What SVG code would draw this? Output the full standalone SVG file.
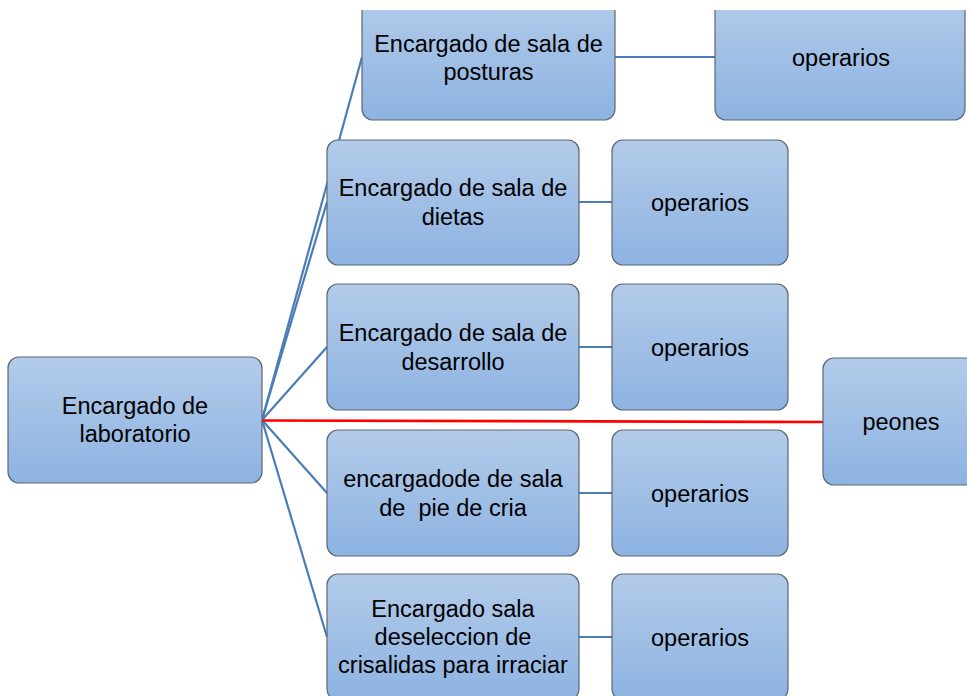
<svg xmlns="http://www.w3.org/2000/svg" width="967" height="696" viewBox="0 0 967 696">
<defs>
<linearGradient id="g" x1="0" y1="0" x2="0" y2="1">
<stop offset="0" stop-color="#b3cbe9"/>
<stop offset="1" stop-color="#8db3e2"/>
</linearGradient>
<clipPath id="topclip"><rect x="0" y="10" width="967" height="700"/></clipPath>
</defs>
<style>
.box{fill:url(#g);stroke:#5d6874;stroke-width:1.2}
.t{font-family:"Liberation Sans",Arial,sans-serif;font-size:23.5px;fill:#000;text-anchor:middle;white-space:pre}
.c{stroke:#4a7db5;stroke-width:2.2;fill:none}
.r{stroke:#ff0000;stroke-width:2.6;fill:none}
</style>
<rect width="967" height="696" fill="#fff"/>
<g id="connectors">
<line class="c" x1="262" y1="420" x2="362" y2="57"/>
<line class="c" x1="262" y1="420" x2="327" y2="202"/>
<line class="c" x1="262" y1="420" x2="327" y2="347"/>
<line class="c" x1="262" y1="420" x2="327" y2="493"/>
<line class="c" x1="262" y1="420" x2="327" y2="637"/>
<line class="c" x1="615" y1="57" x2="715" y2="57"/>
<line class="c" x1="579" y1="202" x2="612" y2="202"/>
<line class="c" x1="579" y1="347" x2="612" y2="347"/>
<line class="c" x1="579" y1="493" x2="612" y2="493"/>
<line class="c" x1="579" y1="637" x2="612" y2="637"/>
<line class="r" x1="262" y1="420.5" x2="823" y2="422"/>
</g>
<g id="lab">
<rect class="box" x="8" y="357" width="254" height="126" rx="11"/>
<text class="t" x="135" y="414">Encargado de</text>
<text class="t" x="135" y="442">laboratorio</text>
</g>
<g id="posturas" clip-path="url(#topclip)">
<rect class="box" x="362" y="-6" width="253" height="126" rx="11"/>
<text class="t" x="488.5" y="52">Encargado de sala de</text>
<text class="t" x="488.5" y="80">posturas</text>
</g>
<g id="op-posturas" clip-path="url(#topclip)">
<rect class="box" x="715" y="-6" width="250" height="126" rx="11"/>
<text class="t" x="841" y="66">operarios</text>
</g>
<g id="dietas">
<rect class="box" x="327" y="140" width="252" height="125" rx="11"/>
<text class="t" x="453" y="196">Encargado de sala de</text>
<text class="t" x="453" y="225">dietas</text>
</g>
<g id="op-dietas">
<rect class="box" x="612" y="140" width="176" height="125" rx="11"/>
<text class="t" x="700" y="211">operarios</text>
</g>
<g id="desarrollo">
<rect class="box" x="327" y="284" width="252" height="126" rx="11"/>
<text class="t" x="453" y="341">Encargado de sala de</text>
<text class="t" x="453" y="370">desarrollo</text>
</g>
<g id="op-desarrollo">
<rect class="box" x="612" y="284" width="176" height="126" rx="11"/>
<text class="t" x="700" y="356">operarios</text>
</g>
<g id="pie">
<rect class="box" x="327" y="430" width="252" height="126" rx="11"/>
<text class="t" x="453" y="487">encargadode de sala</text>
<text class="t" x="453" y="516">de  pie de cria</text>
</g>
<g id="op-pie">
<rect class="box" x="612" y="430" width="176" height="126" rx="11"/>
<text class="t" x="700" y="502">operarios</text>
</g>
<g id="crisalidas">
<rect class="box" x="327" y="574" width="252" height="126" rx="11"/>
<text class="t" x="453" y="617">Encargado sala</text>
<text class="t" x="453" y="645">deseleccion de</text>
<text class="t" x="453" y="673">crisalidas para irraciar</text>
</g>
<g id="op-crisalidas">
<rect class="box" x="612" y="574" width="176" height="126" rx="11"/>
<text class="t" x="700" y="646">operarios</text>
</g>
<g id="peones">
<rect class="box" x="823" y="358" width="254" height="127" rx="11"/>
<text class="t" x="901" y="430">peones</text>
</g>
</svg>
